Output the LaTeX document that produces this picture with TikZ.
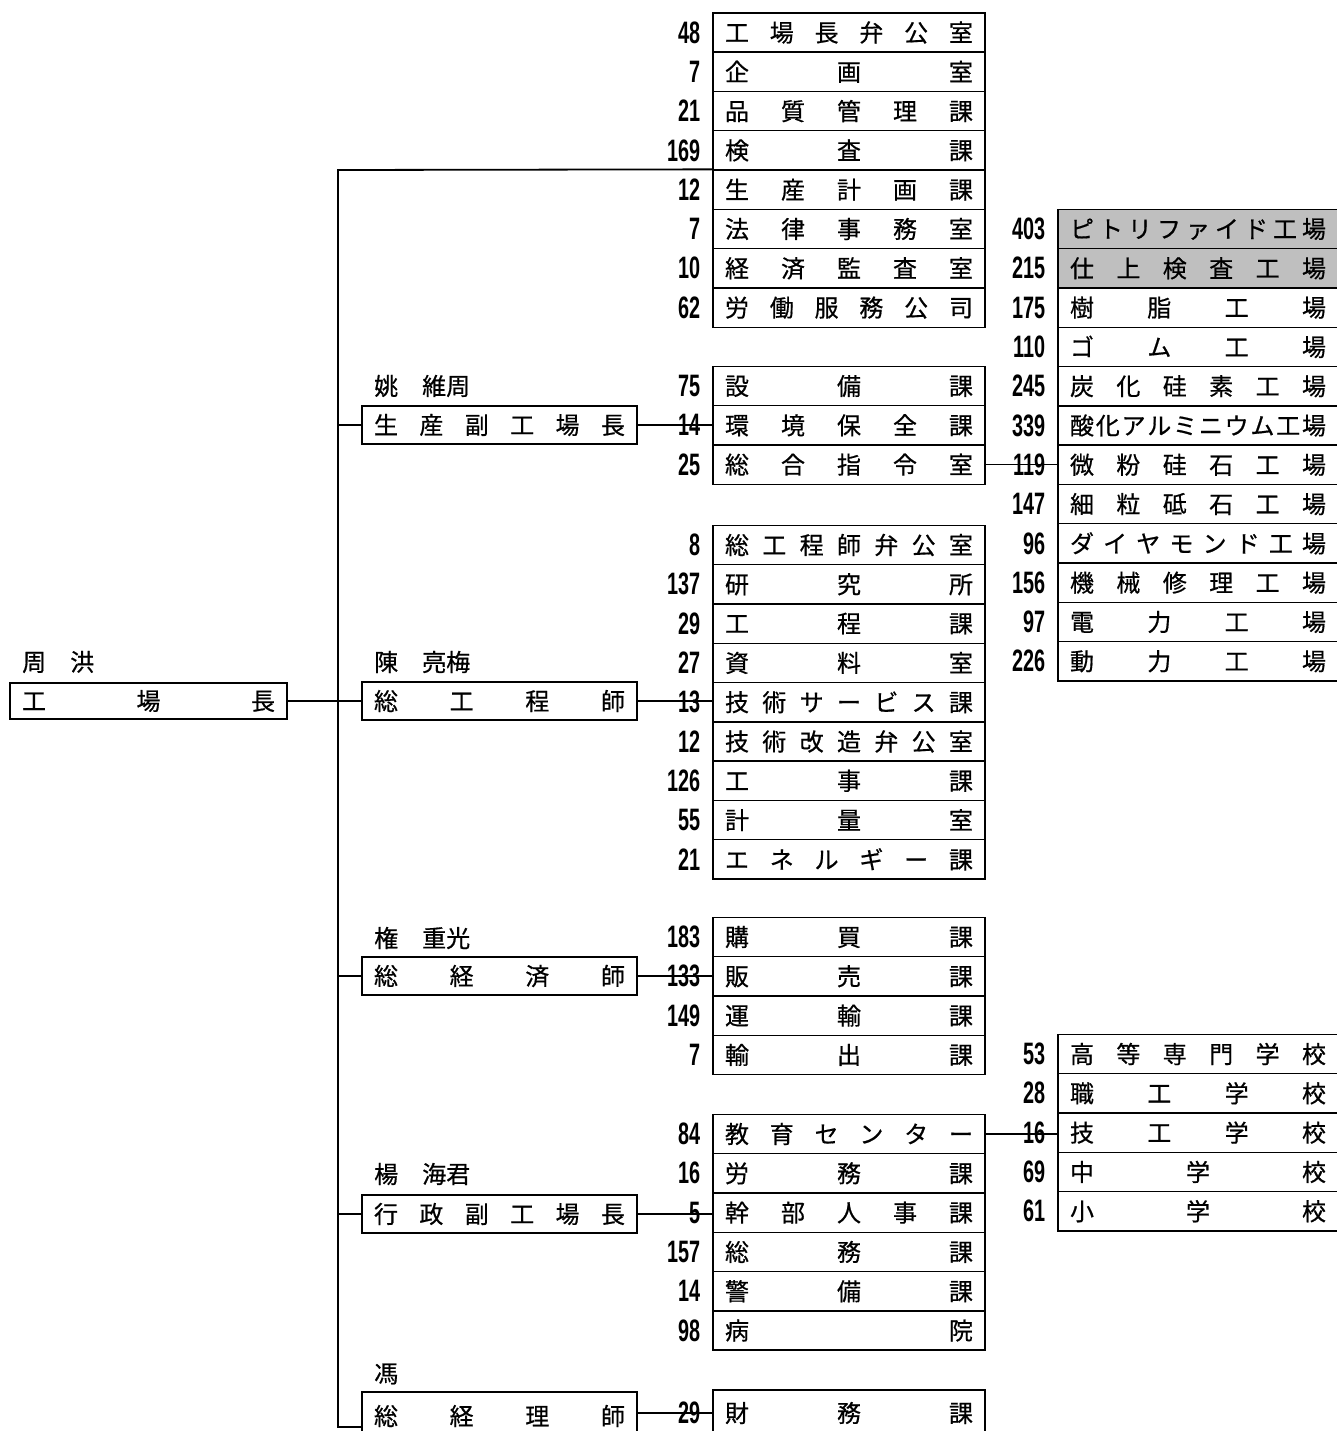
\documentclass[tikz,border=0pt]{standalone}
\usepackage{fontspec}
\usetikzlibrary{backgrounds}
\setmainfont[FakeBold=0.6]{Noto Sans CJK JP}
\newfontfamily\numfont[FakeStretch=0.64]{Liberation Sans}
% spread the characters of a label evenly over a box
\def\spreadtext#1{\spreadA#1\relax}
\def\spreadA#1{#1\spreadB}
\def\spreadB#1{\ifx\relax#1\else\hfill#1\expandafter\spreadB\fi}
\newcommand\colgroup[5]{% prefix, centre x, first y, inner width, list
  \foreach \nm/\txt [count=\i] in {#5} {
    \node[cell] (#1\i) at ({#2},{#3+39.3*(\i-1)})
      {\hbox to #4pt{\expandafter\spreadtext\expandafter{\txt}}};
    \node[numlab] (#1n\i) at ([xshift=-12pt]#1\i.west) {\nm};
  }%
}
\tikzset{
  cjk/.style={font=\fontsize{24}{24}\selectfont},
  cell/.style={draw, line width=1.4pt, inner xsep=12pt, inner ysep=0pt,
    minimum height=39.3pt, cjk},
  midbox/.style={draw, line width=1.4pt, inner xsep=12pt, inner ysep=0pt,
    minimum height=38pt, cjk},
  numlab/.style={inner sep=0pt, anchor=east,
    font=\numfont\bfseries\fontsize{31}{31}\selectfont},
  namelab/.style={inner sep=0pt, anchor=west, cjk},
  conn/.style={line width=1.2pt},
  trunk/.style={line width=1.8pt},
}
\begin{document}
\begin{tikzpicture}[x=1pt,y=-1pt]
\useasboundingbox (0,0) rectangle (1336,1431);

% chief
\node[namelab] (L0) at (22,662) {周　洪};
\node[midbox, minimum height=36pt] (K) at (148.5,701) {\hbox to 253pt{\spreadtext{工場長}}};

% second level
\node[midbox] (M1) at (499.5,425) {\hbox to 251pt{\spreadtext{生産副工場長}}};
\node[midbox] (M2) at (499.5,701) {\hbox to 251pt{\spreadtext{総工程師}}};
\node[midbox] (M3) at (499.5,976) {\hbox to 251pt{\spreadtext{総経済師}}};
\node[midbox] (M4) at (499.5,1214) {\hbox to 251pt{\spreadtext{行政副工場長}}};
\node[midbox, minimum height=48pt] (M5) at (499.5,1416) {\hbox to 251pt{\spreadtext{総経理師}}};
\node[namelab] (L1) at (374,386) {姚　維周};
\node[namelab] (L2) at (374,662) {陳　亮梅};
\node[namelab] (L3) at (374,938) {権　重光};
\node[namelab] (L4) at (374,1174) {楊　海君};
\node[namelab] (L5) at (374,1374) {馮};

% departments
\colgroup{A}{849}{32.5}{248}{48/工場長弁公室, 7/企画室, 21/品質管理課, 169/検査課,
  12/生産計画課, 7/法律事務室, 10/経済監査室, 62/労働服務公司}
\colgroup{B}{849}{386}{248}{75/設備課, 14/環境保全課, 25/総合指令室}
\colgroup{C}{849}{545}{248}{8/総工程師弁公室, 137/研究所, 29/工程課, 27/資料室,
  13/技術サービス課, 12/技術改造弁公室, 126/工事課, 55/計量室, 21/エネルギー課}
\colgroup{D}{849}{937}{248}{183/購買課, 133/販売課, 149/運輸課, 7/輸出課}
\colgroup{E}{849}{1134}{248}{84/教育センター, 16/労務課, 5/幹部人事課, 157/総務課,
  14/警備課, 98/病院}
\node[cell, minimum height=46pt] (F1) at (849,1413) {\hbox to 248pt{\spreadtext{財務課}}};
\node[numlab] (Fn1) at ([xshift=-12pt]F1.west) {29};

% factories and schools
\colgroup{P}{1198}{229}{256}{403/ピトリファイド工場, 215/仕上検査工場, 175/樹脂工場,
  110/ゴム工場, 245/炭化硅素工場, 339/酸化アルミニウム工場, 119/微粉硅石工場,
  147/細粒砥石工場, 96/ダイヤモンド工場, 156/機械修理工場, 97/電力工場, 226/動力工場}
\colgroup{S}{1198}{1054}{256}{53/高等専門学校, 28/職工学校, 16/技工学校, 69/中学校, 61/小学校}

\begin{scope}[on background layer]
  \fill[white] (0,0) rectangle (1336,1431);
  \fill[black!25] (P1.north west) rectangle (P2.south east);
\end{scope}

% trunk
\coordinate (ttop) at (338,170);
\coordinate (tbot) at (338,1427);
\draw[trunk] (A5.north west) -- (ttop) -- (tbot) -- (tbot -| M5.west);
\draw[conn] (K.east) -- (K.east -| ttop);
\foreach \m in {M1,M2,M3,M4} { \draw[conn] (\m.west -| ttop) -- (\m.west); }

% branches
\draw[conn] (M1.east) -- (M1.east -| B2.west);
\draw[conn] (M2.east) -- (M2.east -| C5.west);
\draw[conn] (M3.east) -- (M3.east -| D2.west);
\draw[conn] (M4.east) -- (M4.east -| E3.west);
\draw[conn] (M5.east |- F1.west) -- (F1.west);
\draw[conn] (B3.east) -- (B3.east -| P7.west);
\draw[conn] (E1.east) -- (E1.east -| S3.west);
\end{tikzpicture}
\end{document}
